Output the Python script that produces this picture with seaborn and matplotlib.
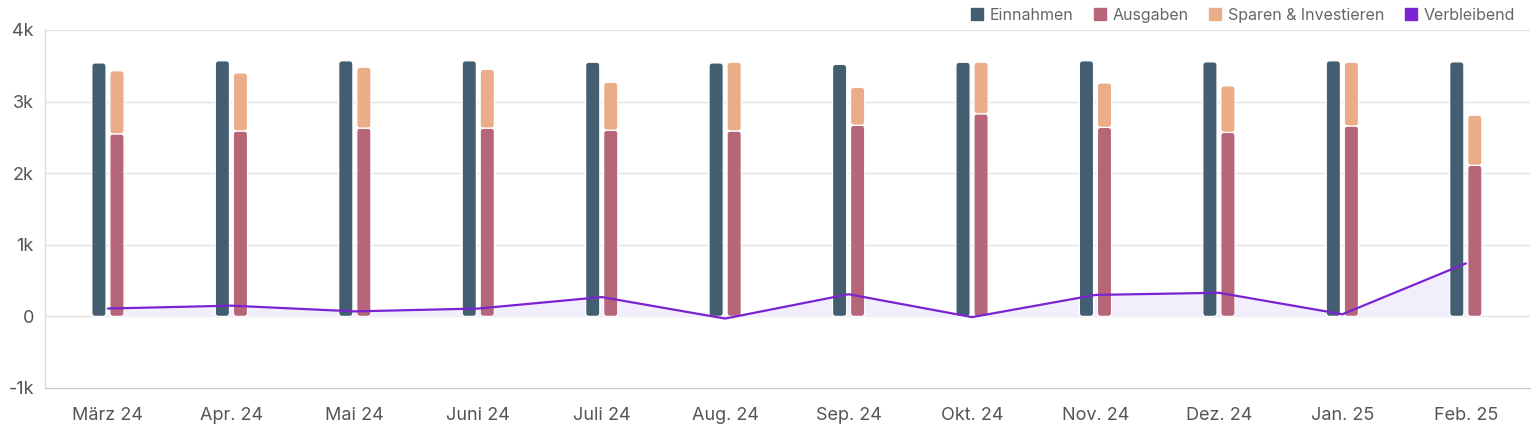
import numpy as np
import pandas as pd
import seaborn as sns
import matplotlib
matplotlib.use("Agg")
import matplotlib.pyplot as plt
from matplotlib.patches import FancyBboxPatch
from matplotlib.lines import Line2D
from matplotlib.ticker import FuncFormatter

months = ["März 24", "Apr. 24", "Mai 24", "Juni 24", "Juli 24", "Aug. 24",
          "Sep. 24", "Okt. 24", "Nov. 24", "Dez. 24", "Jan. 25", "Feb. 25"]
einnahmen = [3540, 3570, 3570, 3570, 3550, 3540, 3520, 3550, 3570, 3555, 3570, 3555]
ausgaben = [2550, 2590, 2630, 2630, 2600, 2590, 2670, 2830, 2640, 2570, 2660, 2110]
sparen = [880, 810, 850, 820, 670, 960, 530, 720, 620, 650, 890, 700]
verbleibend = [110, 150, 70, 110, 270, -30, 310, -10, 300, 330, 30, 740]

c_ein = "#425e70"
c_aus = "#b76679"
c_spa = "#ebac88"
c_ver = "#7b22d2"
c_fill = "#f3eefb"

sns.set_theme(style="white")
plt.rcParams["font.family"] = ["Inter", "DejaVu Sans"]

fig = plt.figure(figsize=(15.36, 4.30), dpi=100)
ax = fig.add_axes([45 / 1536, 42 / 430, (1530 - 45) / 1536, (388 - 30) / 430])

idx = np.arange(len(months))
off = 0.073
bw = 0.115

df_e = pd.DataFrame({"x": idx - off, "y": einnahmen})
df_a = pd.DataFrame({"x": idx + off, "y": ausgaben})
df_s = pd.DataFrame({"x": idx + off, "y": sparen})

ax.fill_between(idx, verbleibend, 0, color=c_fill, zorder=1, linewidth=0)

sns.barplot(data=df_e, x="x", y="y", native_scale=True, width=bw, color=c_ein,
            errorbar=None, ax=ax, saturation=1)
sns.barplot(data=df_a, x="x", y="y", native_scale=True, width=bw, color=c_aus,
            errorbar=None, ax=ax, saturation=1)
sns.barplot(data=df_s, x="x", y="y", native_scale=True, width=bw, color=c_spa,
            errorbar=None, ax=ax, saturation=1, bottom=ausgaben)

# round bar corners
rs = 0.028
asp = 1750
for p in list(ax.patches):
    x0, y0 = p.get_x(), p.get_y()
    w, h = p.get_width(), p.get_height()
    fc = p.get_facecolor()
    p.remove()
    fb = FancyBboxPatch((x0, y0), w, h,
                        boxstyle=f"round,pad=0,rounding_size={rs}",
                        mutation_aspect=asp, facecolor=fc, edgecolor="white",
                        linewidth=0.9, zorder=2)
    ax.add_patch(fb)

sns.lineplot(x=idx, y=verbleibend, color=c_ver, linewidth=1.6, ax=ax, zorder=3)

ax.set_xlim(-0.51, 11.52)
ax.set_ylim(-1000, 4000)
ax.set_xticks(idx)
ax.set_xticklabels(months)
ax.set_yticks([-1000, 0, 1000, 2000, 3000, 4000])
ax.yaxis.set_major_formatter(FuncFormatter(lambda v, _: "0" if v == 0 else f"{int(v/1000)}k"))
ax.set_xlabel("")
ax.set_ylabel("")
ax.tick_params(axis="both", length=0, labelsize=13, colors="#555555")
ax.tick_params(axis="x", pad=14)
ax.tick_params(axis="y", pad=8)

for v in [0, 1000, 2000, 3000, 4000]:
    ax.axhline(v, color="#e3e3e3", linewidth=1, zorder=0)

for s in ["top", "right"]:
    ax.spines[s].set_visible(False)
ax.spines["left"].set_color("#dddddd")
ax.spines["bottom"].set_color("#cccccc")
ax.spines["left"].set_linewidth(1)
ax.spines["bottom"].set_linewidth(1)

handles = [Line2D([], [], marker="s", linestyle="none", markersize=8,
                  markerfacecolor=c, markeredgecolor=c)
           for c in [c_ein, c_aus, c_spa, c_ver]]
labels = ["Einnahmen", "Ausgaben", "Sparen & Investieren", "Verbleibend"]
fig.legend(handles, labels, loc="upper right", bbox_to_anchor=(0.9955, 1.015),
           ncol=4, frameon=False, fontsize=11.5, labelcolor="#666666",
           handletextpad=0.3, columnspacing=1.15, handlelength=1.0)

fig.savefig("out.png", dpi=100)
